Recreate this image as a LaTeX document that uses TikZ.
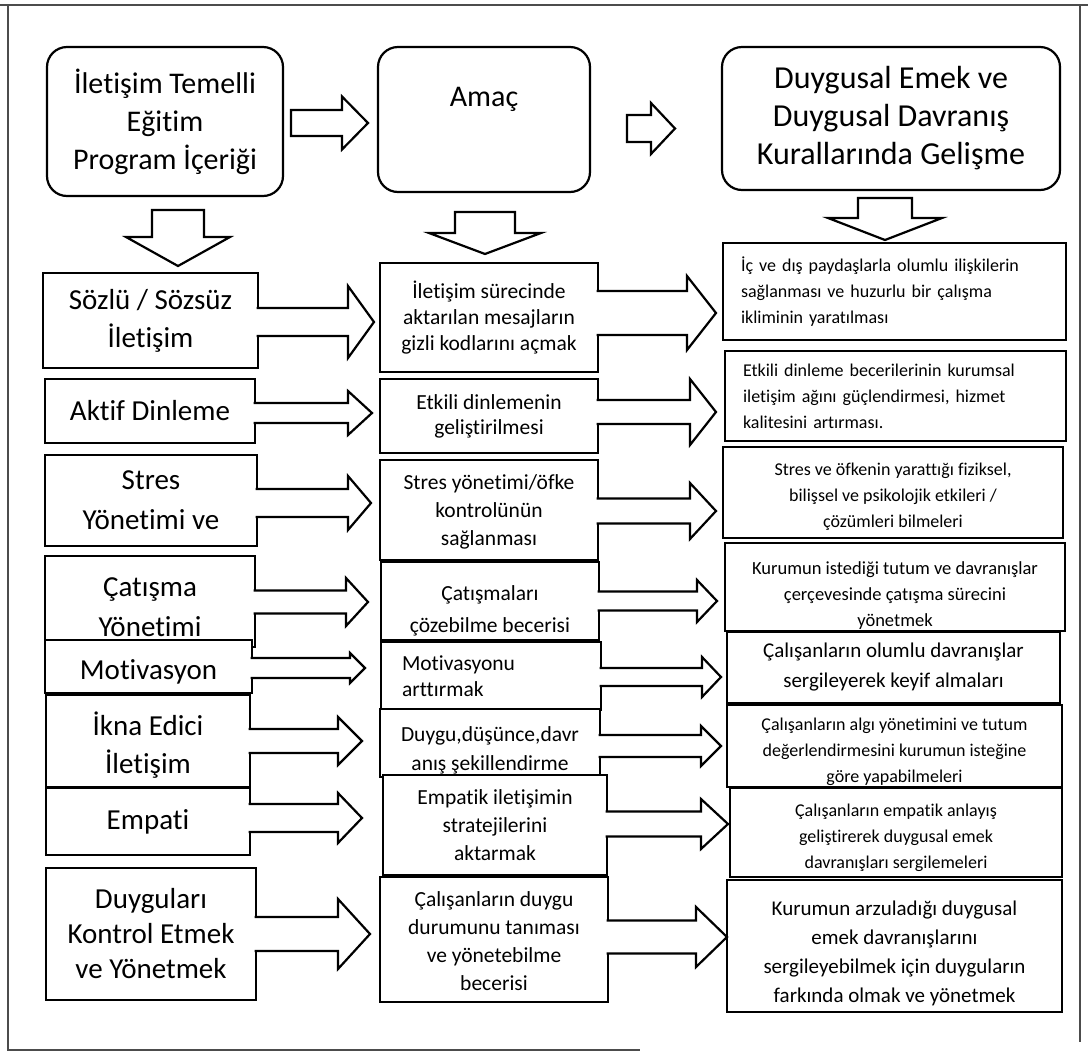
\documentclass[tikz,border=0pt]{standalone}
\usepackage{fontspec}
\setmainfont{Carlito}[Ligatures=NoCommon]
\usepackage{tikz}
\usetikzlibrary{calc, positioning}

% taller first line: pushes the lines of a box down
\newcommand{\tp}[1]{\rule{0pt}{#1}}

% open block arrow: shaft leaves the source box, head stops before the target
% #1 from, #2 to, #3 centre y, #4 half shaft, #5 half head, #6 head length, #7 gap
\newcommand{\openarrow}[7]{%
  \fill[white] let \p1=(#1.east), \p2=(#2.west), \p3=(0,#3) in
    (\x1-1.3pt,\y3+#4pt) -- (\x2-#7pt-#6pt,\y3+#4pt) -- (\x2-#7pt-#6pt,\y3+#5pt)
    -- (\x2-#7pt,\y3) -- (\x2-#7pt-#6pt,\y3-#5pt) -- (\x2-#7pt-#6pt,\y3-#4pt)
    -- (\x1-1.3pt,\y3-#4pt) -- cycle;
  \draw[blockarrow] let \p1=(#1.east), \p2=(#2.west), \p3=(0,#3) in
    (\x1-1.3pt,\y3+#4pt) -- (\x2-#7pt-#6pt,\y3+#4pt) -- (\x2-#7pt-#6pt,\y3+#5pt)
    -- (\x2-#7pt,\y3) -- (\x2-#7pt-#6pt,\y3-#5pt) -- (\x2-#7pt-#6pt,\y3-#4pt)
    -- (\x1-1.3pt,\y3-#4pt);}

% closed block arrow between two boxes, #7 gap after source, #8 gap before target
\newcommand{\flatarrow}[8]{%
  \draw[blockarrow, fill=white] let \p1=(#1.east), \p2=(#2.west), \p3=(0,#3) in
    (\x1+#7pt,\y3+#4pt) -- (\x2-#8pt-#6pt,\y3+#4pt) -- (\x2-#8pt-#6pt,\y3+#5pt)
    -- (\x2-#8pt,\y3) -- (\x2-#8pt-#6pt,\y3-#5pt) -- (\x2-#8pt-#6pt,\y3-#4pt)
    -- (\x1+#7pt,\y3-#4pt) -- cycle;}

% closed block arrow pointing down, #3 x shift from the source centre
\newcommand{\droparrow}[8]{%
  \draw[blockarrow, fill=white] let \p1=(#1.south), \p2=(#2.north) in
    (\x1+#3pt-#4pt,\y1-#7pt) -- (\x1+#3pt-#4pt,\y2+#8pt+#6pt)
    -- (\x1+#3pt-#5pt,\y2+#8pt+#6pt) -- (\x1+#3pt,\y2+#8pt)
    -- (\x1+#3pt+#5pt,\y2+#8pt+#6pt) -- (\x1+#3pt+#4pt,\y2+#8pt+#6pt)
    -- (\x1+#3pt+#4pt,\y1-#7pt) -- cycle;}

\begin{document}
\begin{tikzpicture}[x=1pt, y=-1pt,
    head/.style={draw, line width=2.2pt, rounded corners=20pt, fill=white,
                 inner sep=0pt, outer sep=0pt, align=center,
                 font=\fontsize{#1}{38}\selectfont},
    topic/.style={draw, line width=2.6pt, fill=white, inner sep=0pt,
                  outer sep=0pt, align=center, font=\fontsize{29}{#1}\selectfont},
    aimbox/.style={draw, line width=2.6pt, fill=white, inner sep=0pt,
                   outer sep=0pt, align=center, font=\fontsize{21.5}{#1}\selectfont},
    resbox/.style={draw, line width=2.6pt, fill=white, inner sep=0pt,
                   outer sep=0pt, align=center, font=\fontsize{18}{#1}\selectfont},
    dims/.style 2 args={minimum width=#1, minimum height=#2},
    blockarrow/.style={line width=2.2pt, line join=miter},
    frame/.style={line width=1.6pt, black!70}
]
\useasboundingbox (0,0) rectangle (1088,1053);

%% ── Page frame ─────────────────────────────────────────────────────────
\draw[frame] (0,5) -- (1088,5);
\draw[frame] (8,5) -- (8,1050) -- (640,1050);
\draw[frame] (1080,5) -- (1080,1042);

%% ── Column headers ─────────────────────────────────────────────────────
\node[head=30, dims={236pt}{149pt}] (content) at (165,121.5)
      {İletişim Temelli\\Eğitim\\Program İçeriği};
\node[head=30, dims={212pt}{145pt}] (aim) at (484,119.5) {};
\node[font=\fontsize{30}{38}\selectfont] (aimtext) at ($(aim.north)+(0,52)$) {Amaç};
\node[head=32, dims={338pt}{143pt}] (result) at (891,118.5)
      {Duygusal Emek ve\\Duygusal Davranış\\Kurallarında Gelişme};

%% ── Program content (left) ─────────────────────────────────────────────
\node[topic=38, dims={215pt}{95pt}]  (c1) at (150.5,320.5) {Sözlü / Sözsüz\\İletişim};
\node[topic=32, dims={210pt}{64pt}]  (c2) at (150,411)     {Aktif Dinleme};
\node[topic=40, dims={212pt}{91pt}]  (c3) at (151,500.5)   {Stres\\Yönetimi ve};
\node[topic=40, dims={210pt}{91pt}]  (c4) at (150,601.5)   {\tp{31pt}Çatışma\\Yönetimi};
\node[topic=32, dims={207pt}{53pt}]  (c5) at (148.5,666.5) {\tp{30pt}Motivasyon};
\node[topic=38, dims={204pt}{92pt}]  (c6) at (148,741)     {\tp{31pt}İkna Edici\\İletişim};
\node[topic=32, dims={204pt}{67pt}]  (c7) at (148,821.5)   {Empati};
\node[topic=35, dims={210pt}{132pt}] (c8) at (151,934)
      {Duyguları\\Kontrol Etmek\\ve Yönetmek};

%% ── Aims (middle) ──────────────────────────────────────────────────────
\node[aimbox=26, dims={218pt}{109pt}] (a1) at (489,317.5)
      {İletişim sürecinde\\aktarılan mesajların\\gizli kodlarını açmak};
\node[aimbox=25, dims={218pt}{74pt}]  (a2) at (489,416)
      {Etkili dinlemenin\\geliştirilmesi};
\node[aimbox=28, dims={218pt}{100pt}] (a3) at (489,510)
      {\tp{19pt}Stres yönetimi/öfke\\kontrolünün\\sağlanması};
\node[aimbox=32, dims={218pt}{78pt}]  (a4) at (490,601)
      {\tp{34pt}Çatışmaları\\çözebilme becerisi};
\node[aimbox=26, dims={220pt}{68pt}, text width=178pt, align=left] (a5) at (491,676)
      {Motivasyonu\\arttırmak};
\node[aimbox=29, dims={220pt}{68pt}]  (a6) at (490,743)
      {\tp{30pt}Duygu,düşünce,davr\\anış şekillendirme};
\node[aimbox=28, dims={224pt}{100pt}] (a7) at (495,825)
      {Empatik iletişimin\\stratejilerini\\aktarmak};
\node[aimbox=28, dims={228pt}{125pt}] (a8) at (494,939.5)
      {\tp{19pt}Çalışanların duygu\\durumunu tanıması\\ve yönetebilme\\becerisi};

%% ── Gains in emotional labour (right) ──────────────────────────────────
\node[resbox=26, dims={343pt}{97pt}, text width=307pt, align=left] (r1) at (894.5,291.5)
      {İç ve dış paydaşlarla olumlu ilişkilerin\\sağlanması ve huzurlu bir çalışma\\ikliminin yaratılması};
\node[resbox=26, dims={341pt}{90pt}, text width=305pt, align=left] (r2) at (895.5,396)
      {Etkili dinleme becerilerinin kurumsal\\iletişim ağını güçlendirmesi, hizmet\\kalitesini artırması.};
\node[resbox=26, dims={340pt}{91pt}] (r3) at (893,492.5)
      {\tp{21pt}Stres ve öfkenin yarattığı fiziksel,\\bilişsel ve psikolojik etkileri /\\çözümleri bilmeleri};
\node[resbox=26, dims={340pt}{88pt}, font=\fontsize{18.5}{26}\selectfont] (r4) at (895,587)
      {\tp{29pt}Kurumun istediği tutum ve davranışlar\\çerçevesinde çatışma sürecini\\yönetmek};
\node[resbox=30, dims={333pt}{71pt}, font=\fontsize{21}{30}\selectfont] (r5) at (893.5,667.5)
      {Çalışanların olumlu davranışlar\\sergileyerek keyif almaları};
\node[resbox=26, dims={335pt}{82pt}] (r6) at (894.5,746)
      {\tp{25pt}Çalışanların algı yönetimini ve tutum\\değerlendirmesini kurumun isteğine\\göre yapabilmeleri};
\node[resbox=26, dims={332pt}{89pt}] (r7) at (896,832.5)
      {\tp{23pt}Çalışanların empatik anlayış\\geliştirerek duygusal emek\\davranışları sergilemeleri};
\node[resbox=29, dims={335pt}{132pt}, font=\fontsize{21}{29}\selectfont] (r8) at (894.5,946)
      {\tp{29pt}Kurumun arzuladığı duygusal\\emek davranışlarını\\sergileyebilmek için duyguların\\farkında olmak ve yönetmek};

%% ── Header arrows ──────────────────────────────────────────────────────
\flatarrow{content}{aim}{123}{13}{26.5}{26}{8}{10}
\flatarrow{aim}{result}{128.5}{13.5}{25.5}{24}{37}{47}
\droparrow{content}{c1}{13}{26}{52}{29}{14}{7}
\droparrow{aim}{a1}{1}{30}{56}{21}{20}{9}
\droparrow{result}{r1}{-6}{27}{57}{22}{8}{3}

%% ── Content -> aim ─────────────────────────────────────────────────────
\openarrow{c1}{a1}{322}{14}{36}{26}{6}
\openarrow{c2}{a2}{413}{10}{22}{24}{8}
\openarrow{c3}{a3}{503}{14}{27}{23}{9}
\openarrow{c4}{a4}{602}{11.5}{24}{22}{13}
\openarrow{c5}{a5}{668}{10}{15}{15}{16}
\openarrow{c6}{a6}{741}{12}{24}{24}{18}
\openarrow{c7}{a7}{818}{14}{25}{24}{21}
\openarrow{c8}{a8}{934}{17}{35}{32}{10}

%% ── Aim -> gain ────────────────────────────────────────────────────────
\openarrow{a1}{r1}{313}{22}{37}{29}{7}
\openarrow{a2}{r2}{412}{12}{33}{26}{9}
\openarrow{a3}{r3}{511}{12.5}{28}{26}{7}
\openarrow{a4}{r4}{601}{9.5}{21}{20}{8}
\openarrow{a5}{r5}{677}{9}{20}{19}{6}
\openarrow{a6}{r6}{746}{11}{20}{20}{6}
\openarrow{a7}{r7}{824}{12.5}{25}{27}{2}
\openarrow{a8}{r8}{937}{16.5}{30}{31}{0}
\end{tikzpicture}
\end{document}
